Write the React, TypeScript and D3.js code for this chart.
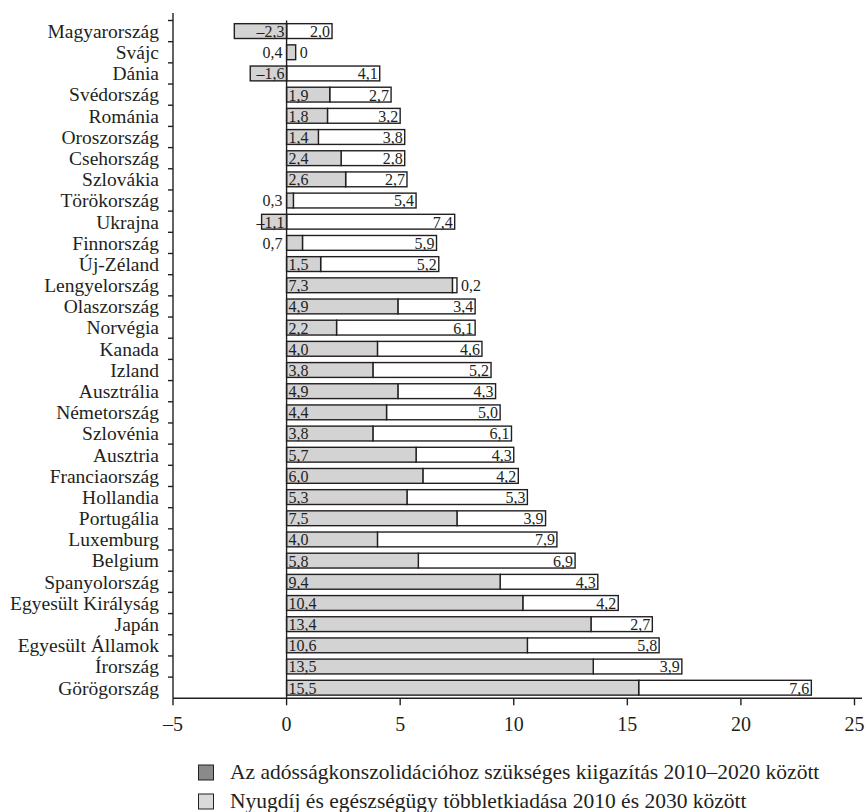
import React from "react";
import * as d3 from "d3";

const countries = [
  "Magyarország", "Svájc", "Dánia", "Svédország", "Románia", "Oroszország",
  "Csehország", "Szlovákia", "Törökország", "Ukrajna", "Finnország", "Új-Zéland",
  "Lengyelország", "Olaszország", "Norvégia", "Kanada", "Izland", "Ausztrália",
  "Németország", "Szlovénia", "Ausztria", "Franciaország", "Hollandia", "Portugália",
  "Luxemburg", "Belgium", "Spanyolország", "Egyesült Királyság", "Japán",
  "Egyesült Államok", "Írország", "Görögország",
];

const debtAdjustment = [
  -2.3, 0.4, -1.6, 1.9, 1.8, 1.4, 2.4, 2.6, 0.3, -1.1, 0.7, 1.5, 7.3, 4.9, 2.2, 4.0,
  3.8, 4.9, 4.4, 3.8, 5.7, 6.0, 5.3, 7.5, 4.0, 5.8, 9.4, 10.4, 13.4, 10.6, 13.5, 15.5,
];

const pensionHealth = [
  2.0, 0, 4.1, 2.7, 3.2, 3.8, 2.8, 2.7, 5.4, 7.4, 5.9, 5.2, 0.2, 3.4, 6.1, 4.6,
  5.2, 4.3, 5.0, 6.1, 4.3, 4.2, 5.3, 3.9, 7.9, 6.9, 4.3, 4.2, 2.7, 5.8, 3.9, 7.6,
];

const xTicks = [-5, 0, 5, 10, 15, 20, 25];

const legendLabels = [
  "Az adósságkonszolidációhoz szükséges kiigazítás 2010–2020 között",
  "Nyugdíj és egészségügy többletkiadása 2010 és 2030 között",
];

const W = 866;
const H = 812;
const FONT = "Liberation Serif";
const INK = "#231f20";
const BAR_GRAY = "#d3d3d3";
const LEGEND_COLORS = ["#8a8a8a", "#d9d9d9"];

const fmt = (v: number) => {
  const s = Math.abs(v) === 0 ? "0" : Math.abs(v).toFixed(1).replace(".", ",");
  return v < 0 ? "–" + s : s;
};

export default function App() {
  const x = d3.scaleLinear().domain([-5, 25]).range([173, 854.5]);
  const y = d3
    .scaleBand<string>()
    .domain(countries)
    .range([20.5, 698.3])
    .paddingInner(0.3)
    .paddingOuter(0.15);
  const bw = y.bandwidth();
  const step = y.step();
  const axisY = 698.3;
  const x0 = x(0);

  return (
    <svg
      width={W}
      height={H}
      style={{ position: "absolute", left: 0, top: 0, background: "#fff" }}
      fontFamily={FONT}
    >
      {/* bars */}
      {countries.map((c, i) => {
        const a = debtAdjustment[i];
        const b = pensionHealth[i];
        const yy = y(c)!;
        const grayX0 = Math.min(x(0), x(a));
        const grayW = Math.abs(x(a) - x(0));
        const whiteStart = a > 0 ? a : 0;
        const whiteEnd = whiteStart + b;
        const baseY = yy + bw - 1.5;
        const els: React.ReactNode[] = [];
        if (b > 0) {
          els.push(
            <rect
              key="w"
              x={x(whiteStart)}
              y={yy}
              width={x(whiteEnd) - x(whiteStart)}
              height={bw}
              fill="#fff"
              stroke={INK}
              strokeWidth={1.4}
            />
          );
        }
        els.push(
          <rect
            key="g"
            x={grayX0}
            y={yy}
            width={grayW}
            height={bw}
            fill={BAR_GRAY}
            stroke={INK}
            strokeWidth={1.4}
          />
        );
        if (a < 0) {
          els.push(
            <text key="gl" x={x0 - 2} y={baseY} textAnchor="end" fontSize={16} fill={INK}>
              {fmt(a)}
            </text>
          );
        } else if (a < 1) {
          els.push(
            <text key="gl" x={x0 - 4} y={baseY} textAnchor="end" fontSize={16} fill={INK}>
              {fmt(a)}
            </text>
          );
        } else {
          els.push(
            <text key="gl" x={x0 + 2} y={baseY} textAnchor="start" fontSize={16} fill={INK}>
              {fmt(a)}
            </text>
          );
        }
        if (b < 1) {
          els.push(
            <text key="wl" x={x(whiteEnd) + 4} y={baseY} textAnchor="start" fontSize={16} fill={INK}>
              {fmt(b)}
            </text>
          );
        } else {
          els.push(
            <text key="wl" x={x(whiteEnd) - 2} y={baseY} textAnchor="end" fontSize={16} fill={INK}>
              {fmt(b)}
            </text>
          );
        }
        return <g key={c}>{els}</g>;
      })}

      {/* zero line */}
      <line x1={x0} x2={x0} y1={20.5} y2={axisY} stroke={INK} strokeWidth={1.4} />

      {/* y axis */}
      <line x1={x(-5)} x2={x(-5)} y1={13} y2={axisY} stroke={INK} strokeWidth={1.4} />
      {countries.map((c) => (
        <line
          key={"t" + c}
          x1={x(-5) - 5}
          x2={x(-5)}
          y1={y(c)! - step * 0.15}
          y2={y(c)! - step * 0.15}
          stroke={INK}
          strokeWidth={1.4}
        />
      ))}
      {countries.map((c) => (
        <text
          key={"l" + c}
          x={159}
          y={y(c)! + bw / 2}
          dy="0.35em"
          textAnchor="end"
          fontSize={19.5}
          fill={INK}
        >
          {c}
        </text>
      ))}

      {/* x axis */}
      <line x1={x(-5)} x2={862} y1={axisY} y2={axisY} stroke={INK} strokeWidth={1.4} />
      {xTicks.map((t) => (
        <g key={"x" + t}>
          <line x1={x(t)} x2={x(t)} y1={axisY} y2={axisY + 7} stroke={INK} strokeWidth={1.4} />
          <text x={x(t)} y={731} textAnchor="middle" fontSize={20} fill={INK}>
            {t < 0 ? "–" + Math.abs(t) : String(t)}
          </text>
        </g>
      ))}

      {/* legend */}
      {legendLabels.map((lab, i) => {
        const top = 765 + i * 29;
        return (
          <g key={"lg" + i}>
            <rect
              x={198.5}
              y={top}
              width={15}
              height={15}
              fill={LEGEND_COLORS[i]}
              stroke={INK}
              strokeWidth={1}
            />
            <text x={230} y={top + 13.5} fontSize={21.5} fill={INK}>
              {lab}
            </text>
          </g>
        );
      })}
    </svg>
  );
}
